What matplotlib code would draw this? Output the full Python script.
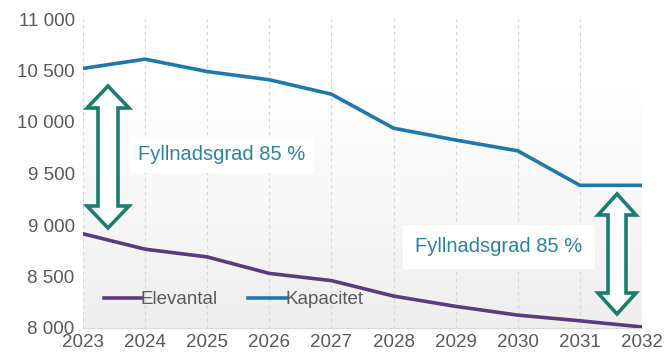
import numpy as np
import matplotlib
matplotlib.use('Agg')
from matplotlib import pyplot as plt
from matplotlib.patches import Polygon

years = [2023, 2024, 2025, 2026, 2027, 2028, 2029, 2030, 2031, 2032]
elevantal = [8915, 8765, 8690, 8530, 8460, 8310, 8210, 8125, 8070, 8010]
kapacitet = [10520, 10610, 10490, 10410, 10270, 9940, 9825, 9720, 9385, 9385]
yticks = [8000, 8500, 9000, 9500, 10000, 10500, 11000]
note = 'Fyllnadsgrad 85 %'

TEXT_GREY = '#595959'
PURPLE = '#5b3a7e'
BLUE = '#1f78aa'
TEAL = '#1b7d6f'
NOTE_BLUE = '#2a83a6'

W, H = 666, 363
L, R, T, B = 83, 642, 19, 328


def px2axes(px, py):
    return ((px - L) / (R - L), (B - py) / (B - T))


def doubleArrow(ax, cx, top, bottom, shaftHalf, headHalf, headLen):
    pts = [
        (cx, top), (cx + headHalf, top + headLen), (cx + shaftHalf, top + headLen),
        (cx + shaftHalf, bottom - headLen), (cx + headHalf, bottom - headLen),
        (cx, bottom), (cx - headHalf, bottom - headLen), (cx - shaftHalf, bottom - headLen),
        (cx - shaftHalf, top + headLen), (cx - headHalf, top + headLen),
    ]
    poly = Polygon([px2axes(*p) for p in pts], closed=True, transform=ax.transAxes,
                   facecolor='white', edgecolor=TEAL, linewidth=2.6, zorder=5,
                   joinstyle='miter')
    ax.add_patch(poly)


plt.rcParams['font.family'] = ['Liberation Sans', 'DejaVu Sans']
fig = plt.figure(figsize=(W / 100, H / 100), dpi=100)
ax = fig.add_axes([L / W, 1 - B / H, (R - L) / W, (B - T) / H])

# subtle vertical gradient in the plot area (white at top, light grey at bottom)
grad = np.concatenate([np.ones(60), np.linspace(1.0, 0.935, 196)]).reshape(-1, 1)
ax.imshow(np.dstack([grad, grad, grad]), extent=[0, 1, 0, 1], transform=ax.transAxes,
          aspect='auto', zorder=0)

ax.plot(years, elevantal, color=PURPLE, linewidth=2.6, label='Elevantal', zorder=3)
ax.plot(years, kapacitet, color=BLUE, linewidth=2.6, label='Kapacitet', zorder=3)

ax.set_xlim(years[0], years[-1])
ax.set_ylim(yticks[0], yticks[-1])
ax.set_xticks(years)
ax.set_yticks(yticks)
ax.set_yticklabels(['{:,}'.format(v).replace(',', ' ') for v in yticks])
ax.tick_params(length=0, labelsize=13.5, colors=TEXT_GREY, pad=6)
ax.tick_params(axis='x', pad=4)
for lbl in ax.get_xticklabels() + ax.get_yticklabels():
    lbl.set_color(TEXT_GREY)

for y in years:
    ax.axvline(y, color='#d6d6d6', linestyle=(0, (3, 3)), linewidth=0.8, zorder=1)

for side in ['top', 'right', 'left']:
    ax.spines[side].set_visible(False)
ax.spines['bottom'].set_color('#d9d9d9')

doubleArrow(ax, 108, 86, 228, 10, 21, 22)
doubleArrow(ax, 617, 194, 314, 9, 19, 21)

ax.text(*px2axes(138, 155), note, transform=ax.transAxes, fontsize=14.5, color=NOTE_BLUE,
        va='center', ha='left', zorder=6,
        bbox=dict(facecolor='white', edgecolor='none', pad=6))
ax.text(*px2axes(415, 247), note, transform=ax.transAxes, fontsize=14.5, color=NOTE_BLUE,
        va='center', ha='left', zorder=6,
        bbox=dict(facecolor='white', edgecolor='none', pad=9))

leg = ax.legend(loc='lower left', bbox_to_anchor=px2axes(96, 316), frameon=False,
                ncol=2, fontsize=13.5, handlelength=2.0, handletextpad=0.0,
                columnspacing=1.6, borderaxespad=0)
for t in leg.get_texts():
    t.set_color(TEXT_GREY)

fig.savefig('out.png', dpi=100)
